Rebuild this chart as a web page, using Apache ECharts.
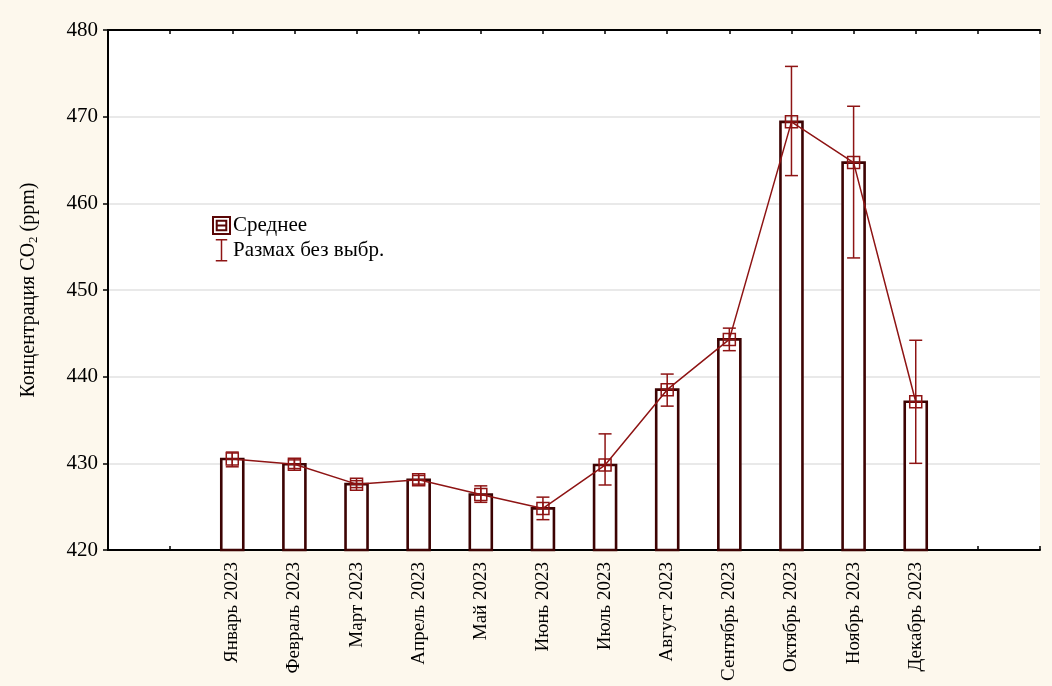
<!DOCTYPE html>
<html>
<head>
<meta charset="utf-8">
<script src="https://cdn.jsdelivr.net/npm/echarts@6/dist/echarts.min.js"></script>
<style>
  html, body { margin: 0; padding: 0; background: #fdf8ed; }
  #chart { width: 1052px; height: 686px; }
</style>
</head>
<body>
<div id="chart"></div>
<script>
// Monthly CO2 concentration, 2023: mean per month and range without outliers
const categories = ['Январь 2023', 'Февраль 2023', 'Март 2023', 'Апрель 2023', 'Май 2023', 'Июнь 2023',
  'Июль 2023', 'Август 2023', 'Сентябрь 2023', 'Октябрь 2023', 'Ноябрь 2023', 'Декабрь 2023'];
const means     = [430.5, 429.9, 427.6, 428.1, 426.4, 424.8, 429.8, 438.5, 444.3, 469.4, 464.7, 437.1];
const rangeLow  = [429.6, 429.4, 427.2, 427.6, 425.5, 423.5, 427.5, 436.6, 443.0, 463.2, 453.7, 430.0];
const rangeHigh = [431.3, 430.4, 428.0, 428.6, 427.4, 426.1, 433.4, 440.3, 445.6, 475.8, 471.2, 444.2];
const yTicks    = [420, 430, 440, 450, 460, 470, 480];

// months sit at positions 2..13 on a 0..15 axis (empty slot at each side)
const OFFSET = 2;
const pos = categories.map((_, i) => i + OFFSET);

const SERIF = '"Liberation Serif", "DejaVu Serif", serif';
const BAR_EDGE = '#3d0303';
const RED = '#8e1414';

const chart = echarts.init(document.getElementById('chart'), null, { renderer: 'canvas' });

const xCommon = {
  type: 'value', min: 0, max: 15, interval: 1,
  axisLine: { show: true, lineStyle: { color: '#000', width: 2 } },
  axisTick: { show: true, inside: true, length: 4, lineStyle: { color: '#000', width: 1.5 } },
  splitLine: { show: false }
};

const option = {
  backgroundColor: '#fdf8ed',
  animation: false,
  grid: { left: 108, right: 12, top: 30, bottom: 136, show: true, backgroundColor: '#ffffff', borderWidth: 0 },
  legend: {
    orient: 'vertical', left: 207, top: 210, itemWidth: 17, itemHeight: 21, itemGap: 3,
    selectedMode: false,
    textStyle: { fontFamily: SERIF, fontSize: 21, color: '#000', padding: [0, 0, 0, -2] },
    data: [
      { name: 'Среднее',
        icon: 'path://M0,0H16V16H0Z M3.5,3.5H12.5V12.5H3.5Z M3.5,8H12.5',
        itemStyle: { color: 'transparent', borderColor: '#5a0606', borderWidth: 2 } },
      { name: 'Размах без выбр.',
        icon: 'path://M0,0H12M6,0V22M0,22H12',
        itemStyle: { color: 'transparent', borderColor: RED, borderWidth: 1.5 } }
    ]
  },
  xAxis: [
    Object.assign({}, xCommon, {
      position: 'bottom',
      axisLabel: {
        rotate: 90, margin: 12, fontFamily: SERIF, fontSize: 19, color: '#000',
        formatter: v => categories[v - OFFSET] || ''
      }
    }),
    Object.assign({}, xCommon, { position: 'top', axisLabel: { show: false } })
  ],
  yAxis: [
    {
      type: 'value', min: yTicks[0], max: yTicks[yTicks.length - 1], interval: 10, position: 'left',
      name: '{a|Концентрация CO}{s|2}{a| (ppm)}',
      nameLocation: 'middle', nameRotate: 90, nameGap: 68,
      nameTextStyle: {
        rich: {
          a: { fontFamily: SERIF, fontSize: 20, color: '#000' },
          s: { fontFamily: SERIF, fontSize: 13, color: '#000', padding: [10, 0, 0, 0] }
        }
      },
      axisLine: { show: true, lineStyle: { color: '#000', width: 2 } },
      axisTick: { show: true, inside: false, length: 5, lineStyle: { color: '#000', width: 1.5 } },
      axisLabel: { margin: 10, fontFamily: SERIF, fontSize: 21, color: '#000' },
      splitLine: { show: true, lineStyle: { color: '#e2e2e2', width: 1.5 } }
    },
    {
      type: 'value', min: yTicks[0], max: yTicks[yTicks.length - 1], interval: 10, position: 'right',
      axisLine: { show: true, lineStyle: { color: '#000', width: 2 } },
      axisTick: { show: true, inside: true, length: 4, lineStyle: { color: '#000', width: 1.5 } },
      axisLabel: { show: false },
      splitLine: { show: false }
    }
  ],
  series: [
    {
      // bars: monthly mean, drawn from the axis floor
      type: 'custom', name: 'bars', z: 2,
      renderItem: (params, api) => {
        const x = api.value(0), v = api.value(1);
        const top = api.coord([x, v]);
        const base = api.coord([x, yTicks[0]]);
        const w = 22;
        return {
          type: 'rect',
          shape: { x: top[0] - w / 2, y: top[1], width: w, height: base[1] - top[1] },
          style: { fill: '#fff', stroke: BAR_EDGE, lineWidth: 2.6 }
        };
      },
      data: pos.map((p, i) => [p, means[i]])
    },
    {
      type: 'line', name: 'Среднее', z: 3, symbol: 'none',
      lineStyle: { color: RED, width: 1.5 },
      data: pos.map((p, i) => [p, means[i]])
    },
    {
      // range without outliers
      type: 'custom', name: 'Размах без выбр.', z: 4,
      renderItem: (params, api) => {
        const x = api.value(0);
        const lo = api.coord([x, api.value(1)]);
        const hi = api.coord([x, api.value(2)]);
        const cap = 6.5;
        const st = { stroke: RED, lineWidth: 1.5 };
        return {
          type: 'group',
          children: [
            { type: 'line', shape: { x1: lo[0], y1: lo[1], x2: hi[0], y2: hi[1] }, style: st },
            { type: 'line', shape: { x1: hi[0] - cap, y1: hi[1], x2: hi[0] + cap, y2: hi[1] }, style: st },
            { type: 'line', shape: { x1: lo[0] - cap, y1: lo[1], x2: lo[0] + cap, y2: lo[1] }, style: st }
          ]
        };
      },
      data: pos.map((p, i) => [p, rangeLow[i], rangeHigh[i]])
    },
    {
      // mean markers: square with a cross
      type: 'custom', name: 'Среднее', z: 5,
      renderItem: (params, api) => {
        const c = api.coord([api.value(0), api.value(1)]);
        const h = 6;
        const st = { stroke: RED, lineWidth: 1.5, fill: 'rgba(255,255,255,0)' };
        return {
          type: 'group',
          children: [
            { type: 'rect', shape: { x: c[0] - h, y: c[1] - h, width: 2 * h, height: 2 * h }, style: st },
            { type: 'line', shape: { x1: c[0] - h, y1: c[1], x2: c[0] + h, y2: c[1] }, style: st },
            { type: 'line', shape: { x1: c[0], y1: c[1] - h, x2: c[0], y2: c[1] + h }, style: st }
          ]
        };
      },
      data: pos.map((p, i) => [p, means[i]])
    }
  ]
};

chart.setOption(option);
</script>
</body>
</html>
